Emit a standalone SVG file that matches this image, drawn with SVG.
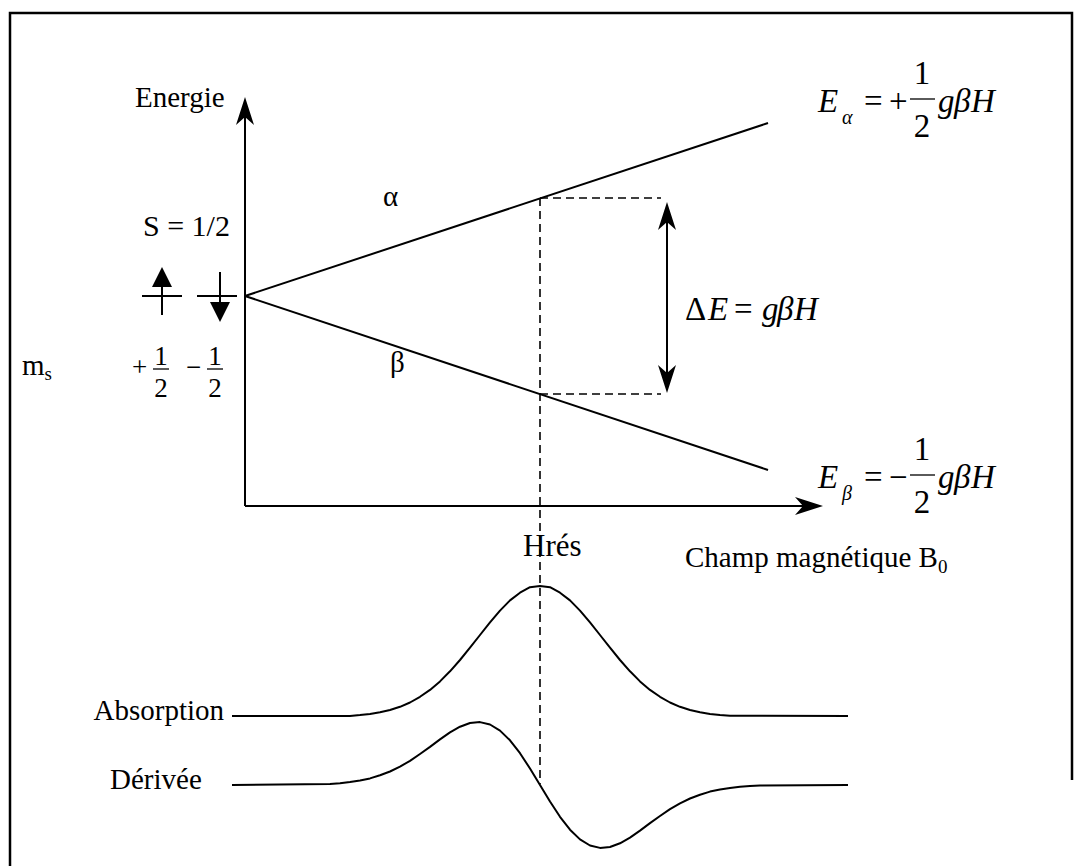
<svg xmlns="http://www.w3.org/2000/svg" width="1084" height="866" viewBox="0 0 1084 866">
<style>
.t{font-family:"Liberation Serif","Times New Roman",serif;font-size:29px;fill:#000}
.m{font-family:"Liberation Serif","Times New Roman",serif;font-size:33px;fill:#000}
.f{font-family:"Liberation Serif","Times New Roman",serif;font-size:27px;fill:#000}
.i{font-style:italic}
.ln{stroke:#000;stroke-width:2;fill:none}
.bar{stroke:#000;stroke-width:1.3;fill:none}
.ds{stroke:#000;stroke-width:1.6;fill:none;stroke-dasharray:8 5}
.cv{stroke:#000;stroke-width:2;fill:none;stroke-linejoin:round}
</style>
<defs>
<marker id="ah" viewBox="0 -10 29 20" refX="8" refY="0" markerWidth="29" markerHeight="20" markerUnits="userSpaceOnUse" orient="auto-start-reverse"><path d="M0,-9 L28,0 L0,9 L8,0 Z" fill="#000"/></marker>
</defs>
<rect width="1084" height="866" fill="#fff"/>
<path id="frame" d="M10,866 V13 H1072 V780" stroke="#000" stroke-width="2.5" fill="none"/>

<g id="connectors">
<line class="ln" x1="245" y1="506" x2="245" y2="117" marker-end="url(#ah)"/>
<line class="ln" x1="245" y1="506" x2="803" y2="506" marker-end="url(#ah)"/>
<line class="ln" x1="245" y1="296" x2="768" y2="123"/>
<line class="ln" x1="245" y1="296" x2="768" y2="470"/>
<line class="ds" x1="540" y1="198" x2="540" y2="784"/>
<line class="ds" x1="540" y1="198" x2="661" y2="198"/>
<line class="ds" x1="540" y1="394" x2="661" y2="394"/>
<line class="ln" x1="667" y1="222" x2="667" y2="373" marker-start="url(#ah)" marker-end="url(#ah)"/>
</g>

<g id="absorption-curve">
<polyline class="cv" points="232,716 350,716 360,715.1 370,713.9 380,712.3 390,710 400,706.8 410,702.5 420,696.8 430,689.9 440,681.4 450,671.3 460,660 470,647.7 480,635 490,622.4 500,610.6 510,600.4 520,592.7 530,587.2 540,586 550,587.2 560,592.7 570,600.4 580,610.6 590,622.4 600,635 610,647.7 620,660 630,671.3 640,681.4 650,689.9 660,696.8 670,702.5 680,706.8 690,710 700,712.3 710,713.9 720,715.1 730,715.8 848,716"/>
</g>
<g id="derivative-curve">
<polyline class="cv" points="232,785 330,784 340,783.2 350,782.1 360,780.5 370,778.4 380,775.3 390,771.5 400,766.7 410,760.8 420,754 430,746.9 440,739.4 450,732.4 460,726.7 470,723 480,722.1 490,724.5 500,730.6 510,740.3 520,753.2 530,768.5 540,785 550,801.5 560,816.8 570,829.7 580,839.4 590,845.5 600,847.9 610,847 620,843.3 630,837.6 640,830.6 650,823.1 660,816 670,809.2 680,803.3 690,798.5 700,794.7 710,791.6 720,789.5 730,787.9 740,786.8 750,786.1 760,785.5 848,785"/>
</g>

<g id="label-energie"><text class="t" x="135" y="107">Energie</text></g>
<g id="label-spin"><text class="t" x="143" y="236" style="font-size:30px">S = 1/2</text></g>
<g id="label-ms"><text class="t" x="22" y="375">m<tspan style="font-size:19px" dy="5">s</tspan></text></g>

<g id="spin-up">
<line class="ln" x1="142" y1="296" x2="182" y2="296"/>
<line class="ln" x1="162" y1="284" x2="162" y2="315"/>
<polygon points="162,267 172,287 152,287" fill="#000"/>
</g>
<g id="spin-down">
<line class="ln" x1="197" y1="296" x2="237" y2="296"/>
<line class="ln" x1="220" y1="272" x2="220" y2="305"/>
<polygon points="220,322 230,302 210,302" fill="#000"/>
</g>
<g id="ms-values">
<text class="f" x="132" y="376">+</text>
<text class="f" x="161" y="365" text-anchor="middle">1</text>
<line class="bar" x1="153" y1="369" x2="169" y2="369"/>
<text class="f" x="161" y="397" text-anchor="middle">2</text>
<text class="f" x="186" y="376">−</text>
<text class="f" x="215" y="365" text-anchor="middle">1</text>
<line class="bar" x1="207" y1="369" x2="223" y2="369"/>
<text class="f" x="215" y="397" text-anchor="middle">2</text>
</g>

<g id="label-alpha"><text class="t" x="383" y="206">α</text></g>
<g id="label-beta"><text class="t" x="390" y="372">β</text></g>

<g id="label-deltaE">
<text class="m" y="320"><tspan x="685">Δ</tspan><tspan x="708" class="i">E</tspan><tspan x="734">=</tspan><tspan x="762" class="i">g</tspan><tspan x="777" class="i">β</tspan><tspan x="794" class="i">H</tspan></text>
</g>

<g id="formula-Ealpha">
<text class="m i" x="818" y="112">E</text>
<text class="t i" x="842" y="124" style="font-size:20px">α</text>
<text class="m" x="864" y="112">=</text>
<text class="m" x="889" y="112">+</text>
<text class="m" x="922" y="84" text-anchor="middle">1</text>
<line class="bar" x1="910" y1="99" x2="935" y2="99"/>
<text class="m" x="922" y="137" text-anchor="middle">2</text>
<text class="m i" y="112"><tspan x="938">g</tspan><tspan x="954">β</tspan><tspan x="971">H</tspan></text>
</g>

<g id="formula-Ebeta">
<text class="m i" x="818" y="488">E</text>
<text class="t i" x="842" y="500" style="font-size:20px">β</text>
<text class="m" x="864" y="488">=</text>
<text class="m" x="889" y="488">−</text>
<text class="m" x="922" y="460" text-anchor="middle">1</text>
<line class="bar" x1="910" y1="475" x2="935" y2="475"/>
<text class="m" x="922" y="513" text-anchor="middle">2</text>
<text class="m i" y="488"><tspan x="938">g</tspan><tspan x="954">β</tspan><tspan x="971">H</tspan></text>
</g>

<g id="label-hres"><text class="t" x="523" y="556" style="font-size:31px">Hrés</text></g>
<g id="label-champ"><text class="t" x="685" y="567">Champ magnétique B<tspan style="font-size:19px" dy="6">0</tspan></text></g>
<g id="label-absorption"><text class="t" x="224" y="720" text-anchor="end">Absorption</text></g>
<g id="label-derivee"><text class="t" x="110" y="789">Dérivée</text></g>
</svg>
